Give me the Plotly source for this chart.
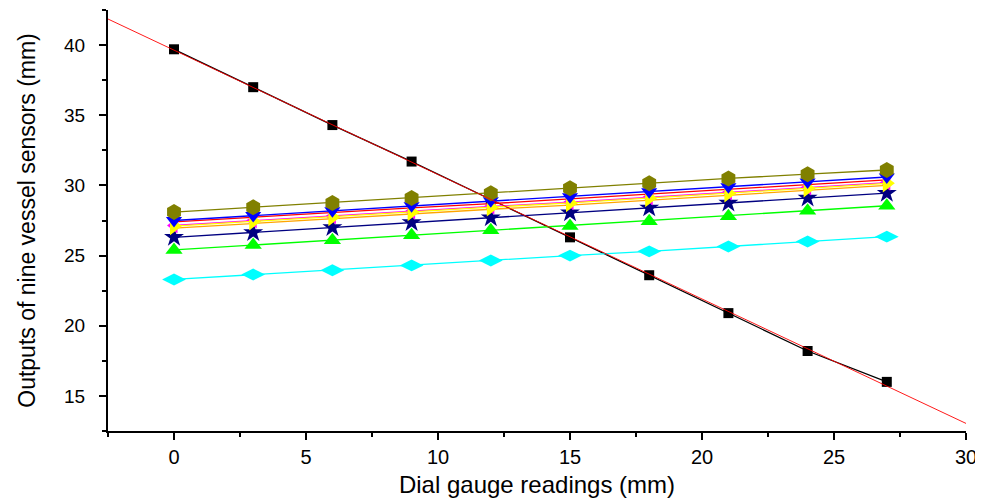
import numpy as np
import plotly.graph_objects as go

x_vals = [0, 3, 6, 9, 12, 15, 18, 21, 24, 27]

dial = [39.7, 37.0, 34.3, 31.7, 29.0, 26.3, 23.6, 20.9, 18.2, 16.0]
olive = [28.1, 28.45, 28.75, 29.1, 29.45, 29.8, 30.15, 30.5, 30.8, 31.1]
blue = [27.5, 27.85, 28.2, 28.55, 28.9, 29.2, 29.55, 29.9, 30.25, 30.6]
red = [27.4, 27.75, 28.05, 28.4, 28.7, 29.05, 29.4, 29.7, 30.05, 30.4]
magenta = [27.15, 27.5, 27.8, 28.15, 28.5, 28.8, 29.15, 29.5, 29.85, 30.2]
yellow = [27.1, 27.45, 27.75, 28.1, 28.45, 28.75, 29.1, 29.45, 29.8, 30.15]
orange = [26.95, 27.3, 27.6, 27.95, 28.3, 28.6, 28.95, 29.3, 29.65, 30.0]
navy = [26.3, 26.65, 27.0, 27.35, 27.7, 28.05, 28.4, 28.75, 29.1, 29.45]
green = [25.4, 25.75, 26.1, 26.45, 26.8, 27.1, 27.45, 27.8, 28.2, 28.55]
cyan = [23.3, 23.65, 23.95, 24.3, 24.65, 25.0, 25.3, 25.65, 26.0, 26.35]

x_ticks = [0, 5, 10, 15, 20, 25, 30]
y_ticks = [15, 20, 25, 30, 35, 40]

fig = go.Figure()

def add(y, color, symbol=None, size=12, mode="lines+markers"):
    fig.add_trace(go.Scatter(
        x=x_vals, y=y, mode=mode,
        line=dict(color=color, width=1.3),
        marker=dict(symbol=symbol, size=size, color=color, line=dict(width=0)) if symbol else None,
        showlegend=False, cliponaxis=False,
    ))

add(dial, "#000000", "square", 10)
add(red, "#ff0000", mode="lines")
add(orange, "#ffa500", mode="lines")
add(cyan, "#00ffff", "diamond-wide", 17)
add(green, "#00ff00", "triangle-up", 15)
add(navy, "#000080", "star", 15)
add(magenta, "#ff00ff", "triangle-left", 14)
add(yellow, "#ffff00", "triangle-right", 16)
add(blue, "#0000ff", "triangle-down", 14)
add(olive, "#808000", "hexagon", 16)

# linear fit of dial series
coef = np.polyfit(x_vals, dial, 1)
fx = np.array([-2.5, 30.0])
fig.add_trace(go.Scatter(x=fx, y=np.polyval(coef, fx), mode="lines",
                         line=dict(color="#ff0000", width=0.9), showlegend=False))

axis_common = dict(
    showline=True, linecolor="black", linewidth=2,
    ticks="outside", ticklen=7, tickwidth=2, tickcolor="black",
    showgrid=False, zeroline=False, mirror=False, automargin=False,
)

fig.update_xaxes(range=[-2.5, 30], tickvals=x_ticks,
                 ticklabelstandoff=0,
                 tickfont=dict(family="Liberation Sans, Arial", size=20, color="black"),
                 minor=dict(dtick=2.5, tick0=0, ticks="outside", ticklen=4, tickwidth=2, tickcolor="black"),
                 title=dict(text="Dial gauge readings (mm)", font=dict(family="Liberation Sans, Arial", size=24, color="black"), standoff=12),
                 **axis_common)
fig.update_yaxes(range=[12.5, 42.5], tickvals=y_ticks,
                 ticklabelstandoff=10,
                 tickfont=dict(family="Liberation Sans, Arial", size=19, color="black"),
                 minor=dict(dtick=2.5, tick0=0, ticks="outside", ticklen=4, tickwidth=2, tickcolor="black"),
                 title=dict(text="Outputs of nine vessel sensors (mm)", font=dict(family="Liberation Sans, Arial", size=23, color="black"), standoff=22),
                 **axis_common)

# the page body adds an 8px offset, so the figure is sized to fit the window
fig.update_layout(width=975, height=490, margin=dict(l=100, r=17, t=2, b=67),
                  plot_bgcolor="white", paper_bgcolor="white")

fig.write_html("out.html")
